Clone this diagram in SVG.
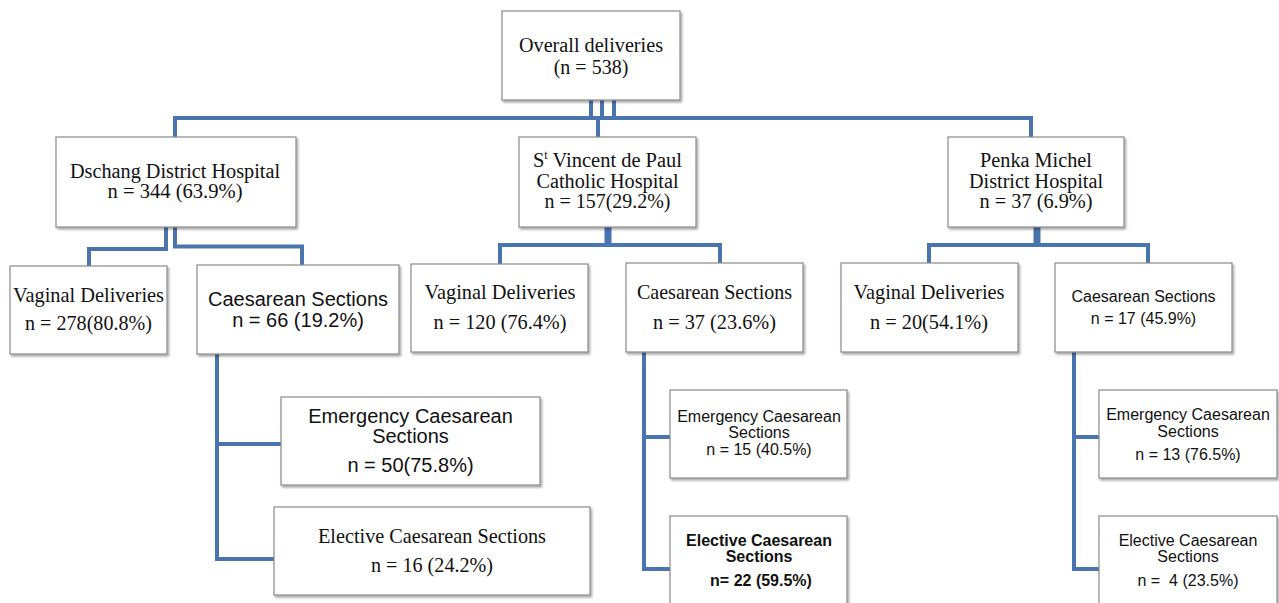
<svg xmlns="http://www.w3.org/2000/svg" width="1279" height="603" viewBox="0 0 1279 603">
<defs>
<filter id="sh" x="-5%" y="-5%" width="115%" height="120%">
<feDropShadow dx="1.5" dy="2" stdDeviation="1" flood-color="#000" flood-opacity="0.35"/>
</filter>
<style>
.box{fill:#fff;stroke:#8a8a8a;stroke-width:1.2;filter:url(#sh)}
.c{fill:none;stroke:#4a74ad;stroke-width:4;stroke-linejoin:miter}
.ct{fill:none;stroke:#4a74ad;stroke-width:7}
.t{font-family:"Liberation Serif","Times New Roman",serif;font-size:22px;fill:#111;text-anchor:middle}
.h{font-size:20px}
.a{font-family:"Liberation Sans",Arial,sans-serif;fill:#111;text-anchor:middle}
.a20{font-size:20px}
.a16{font-size:16px}
.b{font-weight:bold}
</style>
</defs>
<rect width="1279" height="603" fill="#fff"/>
<g id="connectors">
<path class="c" d="M591 100V118M602 100V118M614 100V118"/>
<path class="c" d="M175 137V118H1031V137M598 118V137"/>
<path class="c" d="M166 227V249H89V266"/>
<path class="c" d="M175 227V246.5H302V265"/>
<path class="ct" d="M608 227V245"/>
<path class="c" d="M500 264V245H720V263"/>
<path class="ct" d="M1037 227V245"/>
<path class="c" d="M929 263V245H1148V263"/>
<path class="c" d="M217 354V559H274M217 444H281"/>
<path class="c" d="M644 352V569H670M644 437H670"/>
<path class="c" d="M1074 352V569H1099M1074 437H1099"/>
</g>
<g id="overall">
<rect class="box" x="502" y="11" width="178" height="89"/>
<text class="t h" x="591" y="52" textLength="144" lengthAdjust="spacingAndGlyphs">Overall deliveries</text>
<text class="t h" x="591" y="74">(n = 538)</text>
</g>
<g id="dschang">
<rect class="box" x="56" y="137" width="240" height="90"/>
<text class="t h" x="175" y="178" textLength="210" lengthAdjust="spacingAndGlyphs">Dschang District Hospital</text>
<text class="t h" x="175" y="198" textLength="135" lengthAdjust="spacingAndGlyphs">n = 344 (63.9%)</text>
</g>
<g id="stvincent">
<rect class="box" x="519" y="137" width="177" height="90"/>
<text class="t h" x="607.5" y="167" textLength="149" lengthAdjust="spacingAndGlyphs">S<tspan font-size="12" dy="-8">t</tspan><tspan dy="8"> Vincent de Paul</tspan></text>
<text class="t h" x="607.5" y="188" textLength="142" lengthAdjust="spacingAndGlyphs">Catholic Hospital</text>
<text class="t h" x="607.5" y="208" textLength="126" lengthAdjust="spacingAndGlyphs">n = 157(29.2%)</text>
</g>
<g id="penka">
<rect class="box" x="948" y="137" width="176" height="90"/>
<text class="t h" x="1036" y="167" textLength="112" lengthAdjust="spacingAndGlyphs">Penka Michel</text>
<text class="t h" x="1036" y="188" textLength="134" lengthAdjust="spacingAndGlyphs">District Hospital</text>
<text class="t h" x="1036" y="208" textLength="113" lengthAdjust="spacingAndGlyphs">n = 37 (6.9%)</text>
</g>
<g id="dschang-vaginal">
<rect class="box" x="10" y="266" width="157" height="88"/>
<text class="t" x="88.5" y="302" textLength="151" lengthAdjust="spacingAndGlyphs">Vaginal Deliveries</text>
<text class="t" x="88.5" y="330" textLength="127" lengthAdjust="spacingAndGlyphs">n = 278(80.8%)</text>
</g>
<g id="dschang-cs">
<rect class="box" x="197" y="265" width="202" height="89"/>
<text class="a a20" x="298" y="306">Caesarean Sections</text>
<text class="a a20" x="298" y="327">n = 66 (19.2%)</text>
</g>
<g id="stv-vaginal">
<rect class="box" x="411" y="264" width="177" height="88"/>
<text class="t" x="500" y="299" textLength="151" lengthAdjust="spacingAndGlyphs">Vaginal Deliveries</text>
<text class="t" x="500" y="329" textLength="133" lengthAdjust="spacingAndGlyphs">n = 120 (76.4%)</text>
</g>
<g id="stv-cs">
<rect class="box" x="626" y="263" width="177" height="89"/>
<text class="t" x="714.5" y="299" textLength="155" lengthAdjust="spacingAndGlyphs">Caesarean Sections</text>
<text class="t" x="714.5" y="329" textLength="123" lengthAdjust="spacingAndGlyphs">n = 37 (23.6%)</text>
</g>
<g id="penka-vaginal">
<rect class="box" x="841" y="263" width="177" height="89"/>
<text class="t" x="929" y="299" textLength="151" lengthAdjust="spacingAndGlyphs">Vaginal Deliveries</text>
<text class="t" x="929" y="329" textLength="118" lengthAdjust="spacingAndGlyphs">n = 20(54.1%)</text>
</g>
<g id="penka-cs">
<rect class="box" x="1055" y="263" width="177" height="89"/>
<text class="a a16" x="1143.5" y="302">Caesarean Sections</text>
<text class="a a16" x="1143.5" y="324">n = 17 (45.9%)</text>
</g>
<g id="dschang-emergency">
<rect class="box" x="281" y="397" width="259" height="88"/>
<text class="a a20" x="410.5" y="423">Emergency Caesarean</text>
<text class="a a20" x="410.5" y="443">Sections</text>
<text class="a a20" x="410.5" y="472">n = 50(75.8%)</text>
</g>
<g id="dschang-elective">
<rect class="box" x="274" y="507" width="316" height="88"/>
<text class="t" x="432" y="543" textLength="228" lengthAdjust="spacingAndGlyphs">Elective Caesarean Sections</text>
<text class="t" x="432" y="572" textLength="122" lengthAdjust="spacingAndGlyphs">n = 16 (24.2%)</text>
</g>
<g id="stv-emergency">
<rect class="box" x="670" y="390" width="177" height="88"/>
<text class="a a16" x="759" y="422">Emergency Caesarean</text>
<text class="a a16" x="759" y="438">Sections</text>
<text class="a a16" x="759" y="455">n = 15 (40.5%)</text>
</g>
<g id="stv-elective">
<rect class="box" x="670" y="516" width="177" height="100"/>
<text class="a a16 b" x="759" y="546">Elective Caesarean</text>
<text class="a a16 b" x="759" y="562">Sections</text>
<text class="a a16 b" x="761" y="586">n= 22 (59.5%)</text>
</g>
<g id="penka-emergency">
<rect class="box" x="1099" y="390" width="178" height="88"/>
<text class="a a16" x="1188" y="420">Emergency Caesarean</text>
<text class="a a16" x="1188" y="437">Sections</text>
<text class="a a16" x="1188" y="460">n = 13 (76.5%)</text>
</g>
<g id="penka-elective">
<rect class="box" x="1099" y="516" width="178" height="100"/>
<text class="a a16" x="1188" y="546">Elective Caesarean</text>
<text class="a a16" x="1188" y="562">Sections</text>
<text class="a a16" x="1188" y="586" xml:space="preserve">n =  4 (23.5%)</text>
</g>
</svg>
